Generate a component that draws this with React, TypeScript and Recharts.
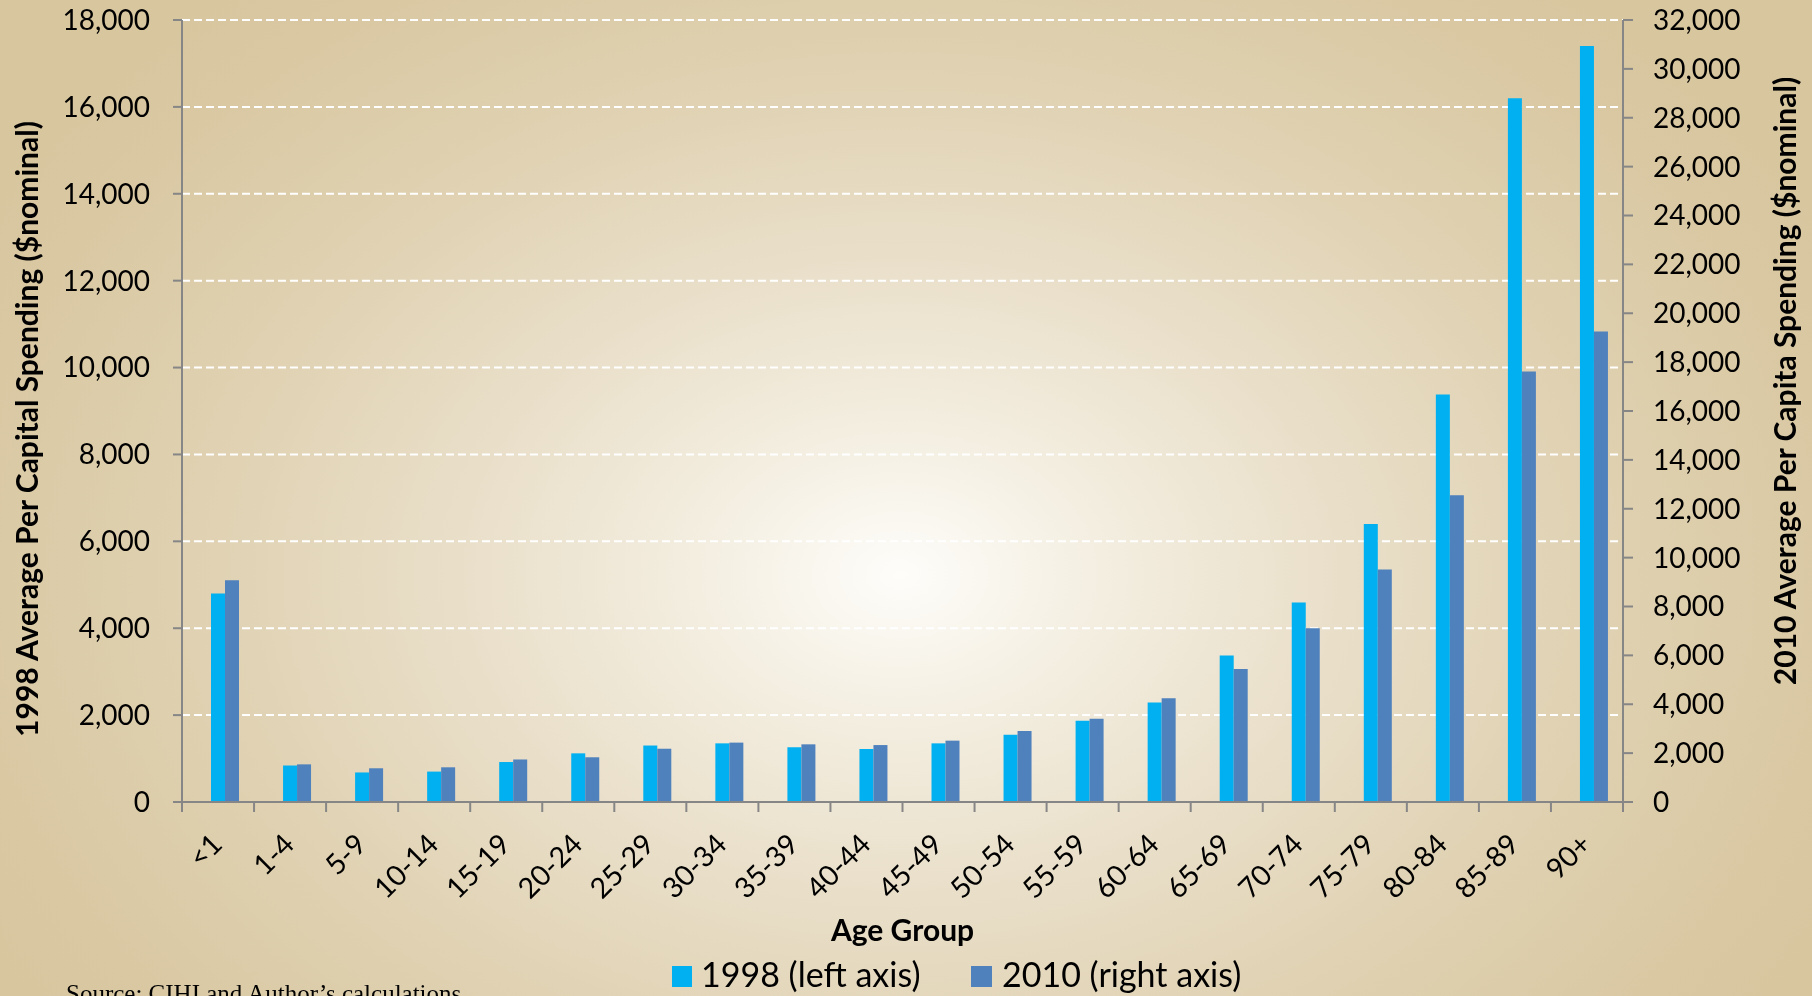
import React from 'react';
import { BarChart, Bar, XAxis, YAxis, CartesianGrid } from 'recharts';

const ageGroups = ['<1', '1-4', '5-9', '10-14', '15-19', '20-24', '25-29', '30-34', '35-39', '40-44', '45-49', '50-54', '55-59', '60-64', '65-69', '70-74', '75-79', '80-84', '85-89', '90+'];
const spending1998 = [4800, 840, 680, 700, 920, 1120, 1300, 1350, 1260, 1220, 1350, 1550, 1870, 2290, 3370, 4590, 6400, 9380, 16200, 17400];
const spending2010 = [9070, 1540, 1380, 1420, 1740, 1830, 2180, 2430, 2360, 2330, 2510, 2910, 3410, 4250, 5440, 7110, 9510, 12550, 17620, 19250];
const leftTicks = [0, 2000, 4000, 6000, 8000, 10000, 12000, 14000, 16000, 18000];
const rightTicks = [0, 2000, 4000, 6000, 8000, 10000, 12000, 14000, 16000, 18000, 20000, 22000, 24000, 26000, 28000, 30000, 32000];
const seriesNames = ['1998 (left axis)', '2010 (right axis)'];
const seriesColors = ['#00B0F0', '#4F81BD'];
const xTitle = 'Age Group';
const leftTitle = '1998 Average Per Capital Spending ($nominal)';
const rightTitle = '2010 Average Per Capita Spending ($nominal)';
const sourceText = 'Source: CIHI and Author\u2019s calculations';

const data = ageGroups.map((age, i) => ({ age, y1998: spending1998[i], y2010: spending2010[i] }));

const W = 1812;
const H = 996;
const LEFT_W = 182;
const RIGHT_W = 189;
const TOP = 20;
const XAXIS_H = 194;
const BAND = (W - LEFT_W - RIGHT_W) / ageGroups.length;
const AXIS_COLOR = '#868686';
const FONT = 'Lato, "Open Sans", sans-serif';

const fmt = (v: number) => v.toLocaleString('en-US');

const XTick = (props: any) => {
  const { x, y, payload, index } = props;
  const tx = x + 6;
  const ty = y + 44;
  return (
    <g>
      <line x1={x - BAND / 2} x2={x - BAND / 2} y1={y} y2={y + 10} stroke={AXIS_COLOR} strokeWidth={2} />
      {index === ageGroups.length - 1 && (
        <line x1={x + BAND / 2} x2={x + BAND / 2} y1={y} y2={y + 10} stroke={AXIS_COLOR} strokeWidth={2} />
      )}
      <text x={tx} y={ty} textAnchor="end" transform={`rotate(-45, ${tx}, ${ty})`} fontSize={28.5} fill="#000" fontFamily={FONT}>
        {payload.value}
      </text>
    </g>
  );
};

export default function App() {
  return (
    <div
      style={{
        position: 'fixed',
        left: 0,
        top: 0,
        width: W,
        height: H,
        overflow: 'hidden',
        background:
          'radial-gradient(ellipse 1050px 760px at 900px 575px, #fefdfa 0%, #f4efe2 18%, #eae0cb 40%, #e0d2b3 65%, #d9c8a2 90%, #d7c69e 100%)',
      }}
    >
      <BarChart
        width={W}
        height={H}
        data={data}
        margin={{ top: TOP, right: 0, bottom: 0, left: 0 }}
        barSize={14}
        barGap={0}
      >
        <CartesianGrid vertical={false} yAxisId="left" stroke="#ffffff" strokeDasharray="8 4" strokeWidth={2} />
        <XAxis
          dataKey="age"
          height={XAXIS_H}
          interval={0}
          tickLine={false}
          tickSize={0}
          tickMargin={0}
          axisLine={{ stroke: AXIS_COLOR, strokeWidth: 2 }}
          tick={<XTick />}
          label={{
            content: (p: any) => {
              const vb = p.viewBox;
              return (
                <text x={vb.x + vb.width / 2} y={vb.y + 139} textAnchor="middle" fontSize={30} fontWeight="bold" fontFamily={FONT} fill="#000">
                  {xTitle}
                </text>
              );
            },
          }}
        />
        <YAxis
          yAxisId="left"
          width={LEFT_W}
          domain={[0, 18000]}
          ticks={leftTicks}
          tickFormatter={fmt}
          tickSize={9}
          tickMargin={23}
          axisLine={{ stroke: AXIS_COLOR, strokeWidth: 2 }}
          tickLine={{ stroke: AXIS_COLOR, strokeWidth: 2 }}
          tick={{ fontSize: 28, fill: '#000', fontFamily: FONT }}
          label={{
            content: () => (
              <text x={26} y={429} textAnchor="middle" dominantBaseline="central" transform="rotate(-90, 26, 429)" fontSize={30} fontWeight="bold" fontFamily={FONT} fill="#000">
                {leftTitle}
              </text>
            ),
          }}
        />
        <YAxis
          yAxisId="right"
          orientation="right"
          width={RIGHT_W}
          domain={[0, 32000]}
          ticks={rightTicks}
          tickFormatter={fmt}
          tickSize={10}
          tickMargin={20}
          axisLine={{ stroke: AXIS_COLOR, strokeWidth: 2 }}
          tickLine={{ stroke: AXIS_COLOR, strokeWidth: 2 }}
          tick={{ fontSize: 28, fill: '#000', fontFamily: FONT }}
          label={{
            content: () => (
              <text x={1784} y={381} textAnchor="middle" dominantBaseline="central" transform="rotate(-90, 1784, 381)" fontSize={30} fontWeight="bold" fontFamily={FONT} fill="#000">
                {rightTitle}
              </text>
            ),
          }}
        />
        <Bar dataKey="spacer" yAxisId="left" fill="none" legendType="none" isAnimationActive={false} />
        <Bar dataKey="y1998" name={seriesNames[0]} yAxisId="left" fill={seriesColors[0]} isAnimationActive={false} />
        <Bar dataKey="y2010" name={seriesNames[1]} yAxisId="right" fill={seriesColors[1]} isAnimationActive={false} />
      </BarChart>
      <svg width={W} height={H} style={{ position: 'absolute', left: 0, top: 0, pointerEvents: 'none' }}>
        <rect x={672} y={966} width={20} height={21} fill={seriesColors[0]} />
        <text x={701} y={987} fontSize={34} fontFamily={FONT} fill="#000">{seriesNames[0]}</text>
        <rect x={971} y={966} width={21} height={21} fill={seriesColors[1]} />
        <text x={1002} y={987} fontSize={34} fontFamily={FONT} fill="#000">{seriesNames[1]}</text>
        <text x={66} y={1002} fontSize={25} fontFamily='"Liberation Serif", "Times New Roman", serif' fill="#000">{sourceText}</text>
      </svg>
    </div>
  );
}
